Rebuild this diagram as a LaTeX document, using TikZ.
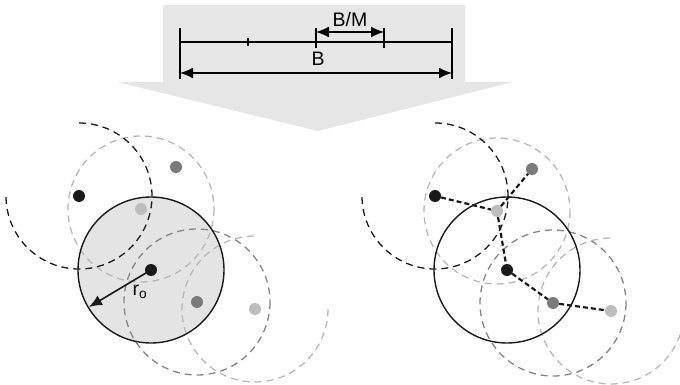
\documentclass[tikz,border=0pt]{standalone}
\usepackage{fontspec}
\setmainfont{Liberation Sans}
\usetikzlibrary{arrows.meta}
\definecolor{bannergray}{HTML}{E6E6E6}
\definecolor{fillgray}{HTML}{E4E4E4}
\definecolor{dotblack}{HTML}{1A1A1A}
\definecolor{dotdark}{HTML}{7A7A7A}
\definecolor{dotlight}{HTML}{BDBDBD}
\definecolor{circdark}{HTML}{858585}
\definecolor{circlight}{HTML}{B8B8B8}
\begin{document}
\begin{tikzpicture}[x=1pt,y=-1pt,
  dim/.style={line width=1.5pt},
  dimarrow/.style={line width=1.5pt,{Latex[length=13pt,width=11pt]}-{Latex[length=13pt,width=11pt]}},
  dcirc/.style={dash pattern=on 7pt off 5pt,line width=1.3pt},
  dotb/.style={circle,fill=dotblack,inner sep=0pt,minimum size=12pt},
  dotd/.style={circle,fill=dotdark,inner sep=0pt,minimum size=12pt},
  dotl/.style={circle,fill=dotlight,inner sep=0pt,minimum size=12pt},
  link/.style={line width=2.2pt,dash pattern=on 5pt off 3pt,dotblack},
  lbl/.style={font=\fontsize{19.5}{22}\selectfont,inner sep=0pt}]
\useasboundingbox (0,0) rectangle (680,385);
% banner arrow
\fill[bannergray] (163,5) -- (465,5) -- (465,82) -- (513,82) -- (318,131) -- (117,82) -- (163,82) -- cycle;
% dimension lines
\coordinate (t0) at (180,42);
\coordinate (t4) at (452,42);
\draw[dim] (t0) -- (t4);
\draw[dim] (180,28) -- (180,79);
\draw[dim] (452,28) -- (452,79);
\draw[dim] (248,38) -- (248,46);
\draw[dim] (316,28) -- (316,48);
\draw[dim] (384,28) -- (384,48);
\coordinate (bm1) at (316,32);
\coordinate (bm2) at (384,32);
\draw[dimarrow] (bm1) -- (bm2);
\node[lbl] (bmlabel) at (350,20) {B/M};
\coordinate (b1) at (180,73);
\coordinate (b2) at (452,73);
\draw[dimarrow] (b1) -- (b2);
\node[lbl] (blabel) at (318,59) {B};

% ---------- left diagram ----------
\begin{scope}
\fill[fillgray] (151,270) circle (73);
\draw[dcirc,circlight] (141,209) circle (73);
\draw[dcirc,circdark] (197,302) circle (73);
\draw[dcirc,circlight] (255+73,309) arc[start angle=0,end angle=270,radius=73];
\draw[dcirc,dotblack] (79,196-73) arc[start angle=270,end angle=540,radius=73];
\draw[line width=1.4pt,dotblack] (151,270) circle (73);
\node[dotb] (La) at (79,196) {};
\node[dotl] (Lb) at (141,209) {};
\node[dotd] (Lc) at (176,167) {};
\node[dotb] (Lo) at (151,270) {};
\node[dotd] (Ld) at (197,302) {};
\node[dotl] (Le) at (255,309) {};
\coordinate (Ledge) at (89,307);
\draw[line width=1.6pt,dotblack,-{Latex[length=13pt,width=11pt]}] (Lo.center) -- (Ledge);
\node[lbl] (r0) at (140,292) {r\textsubscript{o}};
\end{scope}

% ---------- right diagram ----------
\begin{scope}
\draw[dcirc,circlight] (497,211) circle (73);
\draw[dcirc,circdark] (553,303) circle (73);
\draw[dcirc,circlight] (611+73,311) arc[start angle=0,end angle=270,radius=73];
\draw[dcirc,dotblack] (435,196-73) arc[start angle=270,end angle=540,radius=73];
\draw[line width=1.4pt,dotblack] (507,270) circle (73);
\node[dotb] (Ra) at (435,196) {};
\node[dotl] (Rb) at (497,211) {};
\node[dotd] (Rc) at (532,169) {};
\node[dotb] (Ro) at (507,270) {};
\node[dotd] (Rd) at (553,303) {};
\node[dotl] (Re) at (611,311) {};
\draw[link] (Ra) -- (Rb);
\draw[link] (Rb) -- (Rc);
\draw[link] (Rb) -- (Ro);
\draw[link] (Ro) -- (Rd);
\draw[link] (Rd) -- (Re);
\end{scope}
\end{tikzpicture}
\end{document}
